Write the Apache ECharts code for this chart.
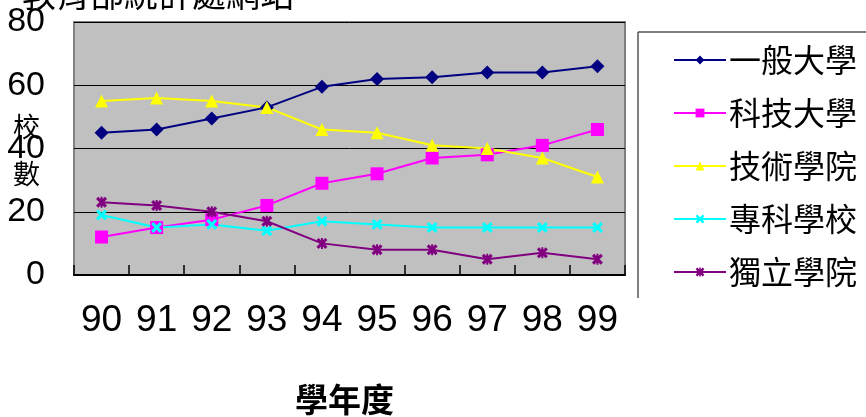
<!DOCTYPE html>
<html>
<head>
<meta charset="utf-8">
<script src="https://cdn.jsdelivr.net/npm/echarts@6/dist/echarts.min.js"></script>
<style>
html,body{margin:0;padding:0;background:#fff;}
#chart{width:866px;height:417px;}
</style>
</head>
<body>
<div id="chart"></div>
<script>
var categories = ['90','91','92','93','94','95','96','97','98','99'];
var seriesNames = ['一般大學','科技大學','技術學院','專科學校','獨立學院'];
var generalUniv = [45, 46, 49.5, 53, 59.5, 62, 62.5, 64, 64, 66];
var techUniv = [12, 15, 17.5, 22, 29, 32, 37, 38, 41, 46];
var techCollege = [55, 56, 55, 53, 46, 45, 41, 40, 37, 31];
var juniorCollege = [19, 15, 16, 14, 17, 16, 15, 15, 15, 15];
var indepCollege = [23, 22, 20, 17, 10, 8, 8, 5, 7, 5];
var yTicks = [0, 20, 40, 60, 80];

var xPath = 'path://M0,2 L2,0 L5,3 L8,0 L10,2 L7,5 L10,8 L8,10 L5,7 L2,10 L0,8 L3,5 Z';
var starPath = 'path://M0,2 L2,0 L5,3 L8,0 L10,2 L7,5 L10,8 L8,10 L5,7 L2,10 L0,8 L3,5 Z M4.1,0 L5.9,0 L5.9,10 L4.1,10 Z';

var numFont = '"Liberation Sans","Arial",sans-serif';
var cjkFont = '"Noto Sans CJK TC","Noto Sans CJK SC",sans-serif';

function mk(name, data, color, symbol, size) {
  return {
    name: name, type: 'line', data: data,
    symbol: symbol, symbolSize: size,
    lineStyle: {color: color, width: 2},
    itemStyle: {color: color},
    animation: false
  };
}

var chart = echarts.init(document.getElementById('chart'));
chart.setOption({
  animation: false,
  backgroundColor: '#ffffff',
  grid: {left: 74, right: 241, top: 22, bottom: 142, show: true,
         backgroundColor: '#c0c0c0', borderColor: '#808080', borderWidth: 2},
  xAxis: {
    type: 'category', data: categories, boundaryGap: true,
    axisLine: {lineStyle: {color: '#000', width: 2}},
    axisTick: {show: true, inside: true, length: 10, lineStyle: {color: '#000', width: 1.5}},
    axisLabel: {interval: 0, fontSize: 37, color: '#000', fontFamily: numFont, margin: 27}
  },
  yAxis: {
    type: 'value', min: yTicks[0], max: yTicks[yTicks.length - 1], interval: 20,
    axisLine: {show: false}, axisTick: {show: false},
    axisLabel: {fontSize: 34, color: '#000', fontFamily: numFont, margin: 29},
    splitLine: {show: true, lineStyle: {color: '#000', width: 1}}
  },
  legend: {
    orient: 'vertical', left: 668, top: 39,
    itemWidth: 52, itemHeight: 11, itemGap: 21,
    textStyle: {fontSize: 32, lineHeight: 32, color: '#000', fontFamily: cjkFont, padding: [0,0,0,-2]},
    data: seriesNames
  },
  graphic: [
    {type: 'line', shape: {x1: 638, y1: 32, x2: 866, y2: 32}, style: {stroke: '#555', lineWidth: 1.5}, silent: true},
    {type: 'line', shape: {x1: 638, y1: 32, x2: 638, y2: 298}, style: {stroke: '#555', lineWidth: 1.5}, silent: true},
    {type: 'text', left: 22, top: -23, style: {text: '教育部統計處網站', fontSize: 34, fill: '#000', fontFamily: cjkFont}},
    {type: 'text', left: 13, top: 113, style: {text: '校', fontSize: 27, fill: '#000', fontFamily: cjkFont}},
    {type: 'text', left: 13, top: 160, style: {text: '數', fontSize: 27, fill: '#000', fontFamily: cjkFont}},
    {type: 'text', left: 295, top: 383, style: {text: '學年度', fontSize: 33, fontWeight: 'bold', fill: '#000', fontFamily: cjkFont}}
  ],
  series: [
    mk(seriesNames[0], generalUniv, '#000080', 'diamond', 14),
    mk(seriesNames[1], techUniv, '#ff00ff', 'rect', 13),
    mk(seriesNames[2], techCollege, '#ffff00', 'triangle', 13),
    mk(seriesNames[3], juniorCollege, '#00ffff', xPath, 11),
    mk(seriesNames[4], indepCollege, '#800080', starPath, 11)
  ]
});
</script>
</body>
</html>
